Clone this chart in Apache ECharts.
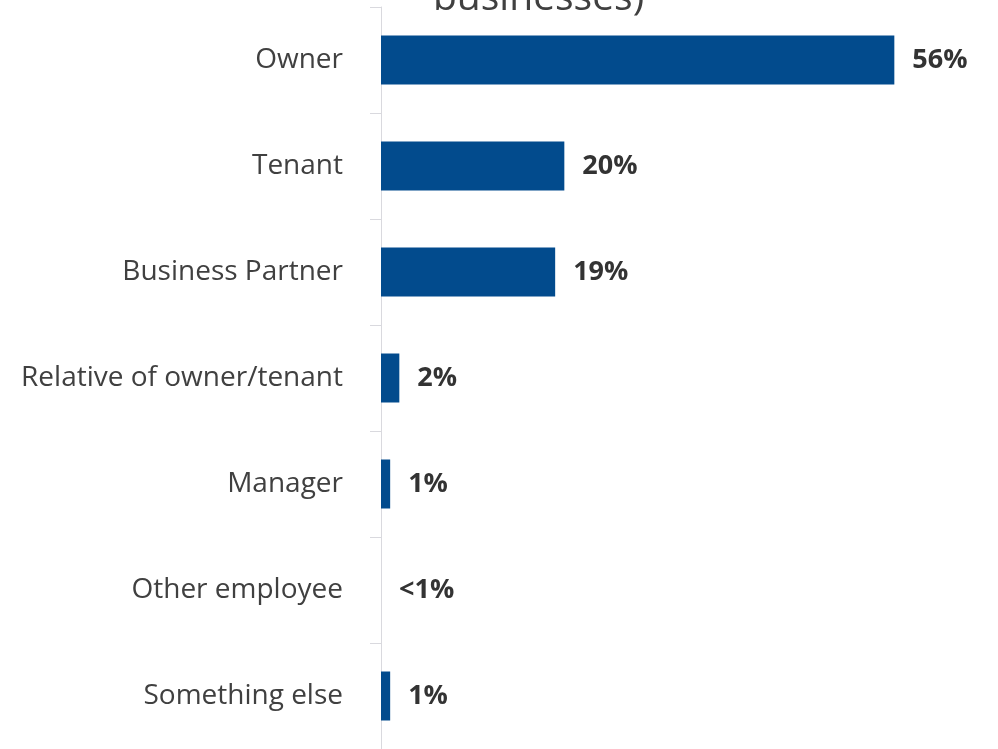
<!DOCTYPE html>
<html>
<head>
<meta charset="utf-8">
<script src="https://cdn.jsdelivr.net/npm/echarts@6/dist/echarts.min.js"></script>
<style>
  html, body { margin: 0; padding: 0; background: #ffffff; }
  #chart { width: 998px; height: 749px; }
</style>
</head>
<body>
<div id="chart"></div>
<script>
// Respondent's role at the business
const categories = ['Owner', 'Tenant', 'Business Partner', 'Relative of owner/tenant', 'Manager', 'Other employee', 'Something else'];
const shares = [56, 20, 19, 2, 1, 0, 1];
const shareLabels = ['56%', '20%', '19%', '2%', '1%', '<1%', '1%'];
const titleText = 'businesses)';

const FONT = '"Open Sans", "Noto Sans", sans-serif';
const chart = echarts.init(document.getElementById('chart'), null, { renderer: 'canvas' });

chart.setOption({
  animation: false,
  backgroundColor: '#ffffff',
  title: {
    text: titleText,
    left: 428,
    top: -26,
    textStyle: { fontFamily: FONT, fontSize: 39, fontWeight: 'normal', color: '#404040' }
  },
  grid: { left: 381, top: 7, width: 550, height: 742, containLabel: false },
  xAxis: {
    type: 'value',
    min: 0,
    max: 60,
    show: false
  },
  yAxis: {
    type: 'category',
    data: categories,
    inverse: true,
    axisLine: { show: true, lineStyle: { color: '#d9d9de', width: 1 } },
    axisTick: { show: true, length: 11, lineStyle: { color: '#d9d9de' } },
    axisLabel: { margin: 38, fontFamily: FONT, fontSize: 28, color: '#404040' },
    splitLine: { show: false }
  },
  series: [{
    type: 'bar',
    data: shares,
    barWidth: 49,
    itemStyle: { color: '#024b8d' },
    label: {
      show: true,
      position: 'right',
      distance: 18,
      fontFamily: FONT,
      fontSize: 27,
      fontWeight: 'bold',
      color: '#333333',
      formatter: p => shareLabels[p.dataIndex]
    }
  }]
});
</script>
</body>
</html>
